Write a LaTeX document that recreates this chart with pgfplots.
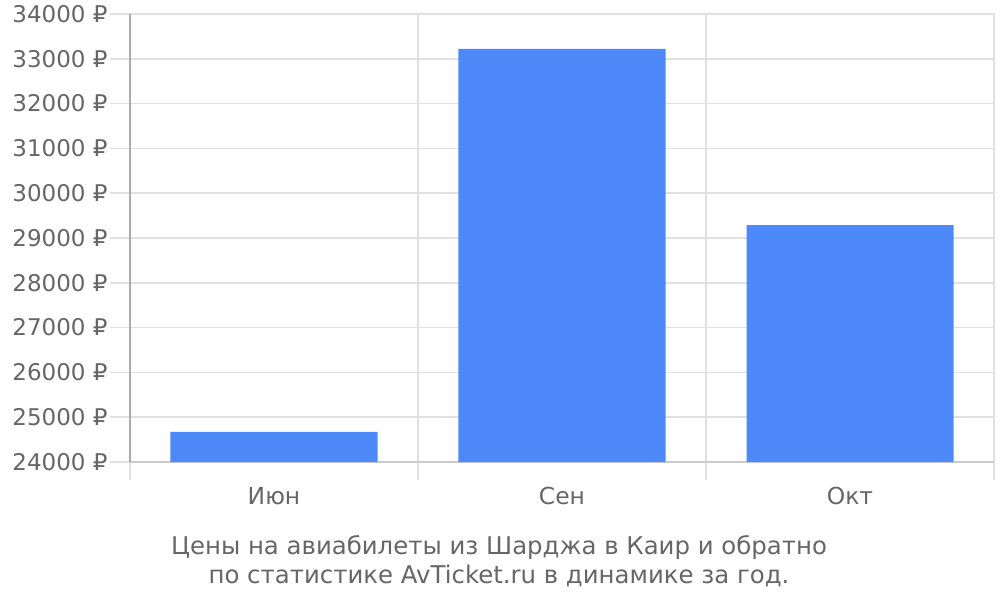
\documentclass[border=0pt]{standalone}
\usepackage{fontspec}
\setmainfont{DejaVu Sans}
\usepackage{pgfplots}
\pgfplotsset{compat=1.18}

\definecolor{barblue}{HTML}{4D89F9}
\definecolor{txtgray}{HTML}{666666}
\definecolor{gridgray}{HTML}{E0E0E0}
\definecolor{axisgray}{HTML}{AAAAAA}
\definecolor{basegray}{HTML}{CCCCCC}

\begin{document}
\begin{tikzpicture}
\useasboundingbox (-65pt,-69pt) rectangle (435pt,231pt);
\begin{axis}[
    at={(0,0)}, anchor=south west,
    scale only axis,
    width=432pt, height=224pt,
    xmin=-0.5, xmax=2.5,
    ymin=24000, ymax=34000,
    axis x line*=bottom,
    axis y line*=left,
    x axis line style={draw=basegray,line width=0.9pt,-},
    y axis line style={draw=axisgray,line width=0.9pt,-},
    xtick={0,1,2},
    xticklabels={Июн,Сен,Окт},
    minor xtick={-0.5,0.5,1.5,2.5},
    minor x grid style={draw=gridgray,line width=0.75pt},
    xminorgrids,
    ytick={24000,25000,...,34000},
    scaled y ticks=false,
    ymajorgrids,
    y grid style={draw=gridgray,line width=0.75pt},
    tick align=outside,
    major tick length=10pt,
    x tick style={draw=none},
    minor x tick style={draw=gridgray,line width=0.75pt},
    minor tick length=9pt,
    y tick style={draw=gridgray,line width=0.75pt},
    yticklabel={\pgfmathprintnumber[fixed,1000 sep={},assume math mode=true]{\tick}\ ₽},
    yticklabel style={font=\fontsize{11.5}{13}\selectfont,text=txtgray,inner sep=1pt},
    xticklabel style={font=\fontsize{11.7}{13}\selectfont,text=txtgray,yshift=1pt},
    ybar,
    bar width=103.5pt,
]
\addplot[fill=barblue,draw=none] coordinates {(0,24670) (1,33220) (2,29290)};
\end{axis}
\node[align=center,text=txtgray,font=\fontsize{12.2}{14.5}\selectfont] at (184.5pt,-49.5pt)
  {Цены на авиабилеты из Шарджа в Каир и обратно\\по статистике AvTicket.ru в динамике за год.};
\end{tikzpicture}
\end{document}
